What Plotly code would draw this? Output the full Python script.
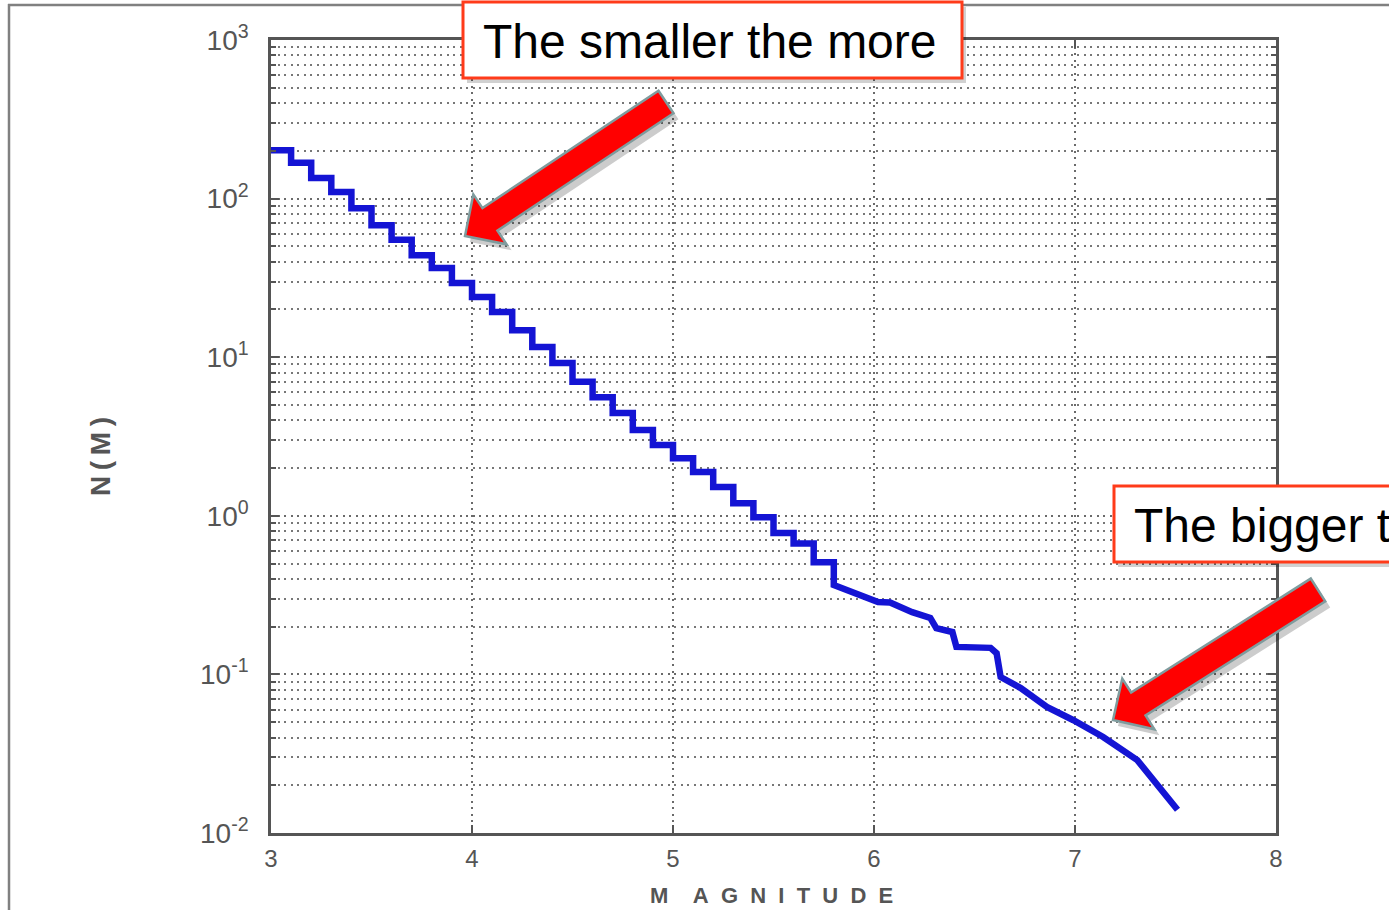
import plotly.graph_objects as go
import math

# ---- data ----
step_magnitude = [3.0, 3.1, 3.2, 3.3, 3.4, 3.5, 3.6, 3.7, 3.8, 3.9,
                  4.0, 4.1, 4.2, 4.3, 4.4, 4.5, 4.6, 4.7, 4.8, 4.9,
                  5.0, 5.1, 5.2, 5.3, 5.4, 5.5, 5.6, 5.7, 5.8]
step_count = [202, 168, 135, 110, 87, 68, 55, 44, 36.5, 29.4,
              24.0, 19.3, 14.8, 11.6, 9.2, 7.0, 5.6, 4.45, 3.47, 2.80,
              2.31, 1.89, 1.52, 1.20, 0.98, 0.78, 0.67, 0.51, 0.366]
tail_magnitude = [5.92, 6.02, 6.08, 6.19, 6.28, 6.31, 6.39, 6.41, 6.58, 6.61,
                  6.63, 6.73, 6.86, 6.99, 7.14, 7.31, 7.51]
tail_count = [0.317, 0.286, 0.284, 0.247, 0.227, 0.196, 0.185, 0.149, 0.147, 0.136,
              0.0963, 0.082, 0.0623, 0.0516, 0.0403, 0.0288, 0.0140]

x_ticks = [3, 4, 5, 6, 7, 8]
y_exponents = [-2, -1, 0, 1, 2, 3]
note_small = "The smaller the more"
note_big = "The bigger the less"
x_title = "M\u00a0\u00a0\u00a0\u00a0A\u00a0\u00a0G\u00a0\u00a0N\u00a0\u00a0I\u00a0\u00a0T\u00a0\u00a0U\u00a0\u00a0D\u00a0\u00a0E"
y_title = "N\u2009(\u2009M\u2009)"

# ---- build staircase path from the step data ----
xs, ys = [], []
for i, (m, n) in enumerate(zip(step_magnitude, step_count)):
    xs.append(m); ys.append(n)
    if i + 1 < len(step_magnitude):
        xs.append(step_magnitude[i + 1]); ys.append(n)
xs += tail_magnitude
ys += tail_count

W, H = 1389, 910
L, R, T, B = 271, 1276, 40, 833   # plot area, in window pixels

def px(x):
    return (x - L) / (R - L)

def py(y):
    return (B - y) / (B - T)

fig = go.Figure()
fig.add_trace(go.Scatter(x=xs, y=ys, mode="lines",
                         line=dict(color="#1414d4", width=6.5),
                         hoverinfo="skip", showlegend=False))

tick_font = dict(family="Liberation Sans, Arial, sans-serif", size=28, color="#555555")
dot = "2px,4.5px"
minor_vals = [k * 10 ** e for e in y_exponents[:-1] for k in range(2, 10)]

fig.update_xaxes(range=[3, 8], tickvals=x_ticks, ticktext=[str(v) for v in x_ticks],
                 showline=True, linecolor="#555555", linewidth=2.5, mirror="ticks",
                 ticks="inside", ticklen=8, tickcolor="#555555", tickwidth=2,
                 showgrid=True, gridcolor="#6a6a6a", gridwidth=1.6, griddash=dot,
                 zeroline=False, ticklabelstandoff=2,
                 tickfont=dict(family="Liberation Sans, Arial, sans-serif", size=24, color="#555555"))
fig.update_yaxes(type="log", range=[-2, 3],
                 tickvals=[10 ** e for e in y_exponents],
                 ticktext=["10<sup>%d</sup>" % e for e in y_exponents],
                 showline=True, linecolor="#555555", linewidth=2.5, mirror="ticks",
                 ticks="inside", ticklen=8, tickcolor="#555555", tickwidth=2,
                 showgrid=True, gridcolor="#6a6a6a", gridwidth=1.6, griddash=dot,
                 zeroline=False, ticklabelstandoff=14, tickfont=tick_font,
                 minor=dict(tickvals=minor_vals, ticks="inside", ticklen=5,
                            tickcolor="#555555", showgrid=True, gridcolor="#777777",
                            gridwidth=1.6, griddash=dot))

shapes = []
# outer frame
shapes.append(dict(type="line", xref="paper", yref="paper", x0=px(9), x1=px(9), y0=py(4), y1=py(915),
                   line=dict(color="#808080", width=2.5), layer="above"))
shapes.append(dict(type="line", xref="paper", yref="paper", x0=px(8), x1=px(1400), y0=py(5), y1=py(5),
                   line=dict(color="#808080", width=2.5), layer="above"))

def arrow_path(tip, tail, w=13.5, hw=30, hl=30, dx=0, dy=0):
    tx, ty = tip
    cx, cy = tail
    L_ = math.hypot(cx - tx, cy - ty)
    ux, uy = (cx - tx) / L_, (cy - ty) / L_
    nx, ny = -uy, ux
    bx, by = tx + ux * hl, ty + uy * hl
    pts = [(tx, ty),
           (bx + nx * hw, by + ny * hw),
           (bx + nx * w, by + ny * w),
           (cx + nx * w, cy + ny * w),
           (cx - nx * w, cy - ny * w),
           (bx - nx * w, by - ny * w),
           (bx - nx * hw, by - ny * hw)]
    return "M " + " L ".join("%.5f,%.5f" % (px(x + dx), py(y + dy)) for x, y in pts) + " Z"

def box(x0, y0, x1, y1):
    shapes.append(dict(type="rect", xref="paper", yref="paper", x0=px(x0 + 4), x1=px(x1 + 4),
                       y0=py(y0 + 5), y1=py(y1 + 5), fillcolor="rgba(0,0,0,0.18)",
                       line=dict(width=0), layer="above"))
    shapes.append(dict(type="rect", xref="paper", yref="paper", x0=px(x0), x1=px(x1),
                       y0=py(y0), y1=py(y1), fillcolor="white",
                       line=dict(color="#ff3b1a", width=3), layer="above"))

def arrow(tip, tail):
    shapes.append(dict(type="path", xref="paper", yref="paper", path=arrow_path(tip, tail, dx=5, dy=6),
                       fillcolor="rgba(0,0,0,0.2)", line=dict(width=0), layer="above"))
    shapes.append(dict(type="path", xref="paper", yref="paper", path=arrow_path(tip, tail),
                       fillcolor="#ff0000", line=dict(color="#7f9c9e", width=2.5), layer="above"))

box(463, 2, 962, 78)
arrow((465, 236), (666, 102))
box(1114, 486, 1420, 562)
arrow((1113, 720), (1318, 590))

ann_font = dict(family="Liberation Sans, Arial, sans-serif", size=48, color="black")
annotations = [
    dict(text=note_small, xref="paper", yref="paper", x=px(710), y=py(41),
         xanchor="center", yanchor="middle", showarrow=False, font=ann_font),
    dict(text=note_big, xref="paper", yref="paper", x=px(1132), y=py(525),
         xanchor="left", yanchor="middle", showarrow=False, font=ann_font),
    dict(text="<b>%s</b>" % x_title, xref="paper", yref="paper", x=px(771), y=py(895),
         xanchor="center", yanchor="middle", showarrow=False,
         font=dict(family="Liberation Sans, Arial, sans-serif", size=22, color="#555555")),
    dict(text="<b>%s</b>" % y_title, xref="paper", yref="paper", x=px(101), y=py(457),
         xanchor="center", yanchor="middle", showarrow=False, textangle=-90,
         font=dict(family="Liberation Sans, Arial, sans-serif", size=28, color="#555555")),
]

fig.update_layout(width=W, height=H,
                  margin=dict(l=L, r=W - R, t=T, b=H - B, pad=0),
                  paper_bgcolor="white", plot_bgcolor="white",
                  shapes=shapes, annotations=annotations, showlegend=False)

# remove the page's default 8px body margin so the figure sits at the window origin
fig.write_html("out.html", config={"displayModeBar": False},
               post_script="document.body.style.margin='0';document.body.style.overflow='hidden';")
